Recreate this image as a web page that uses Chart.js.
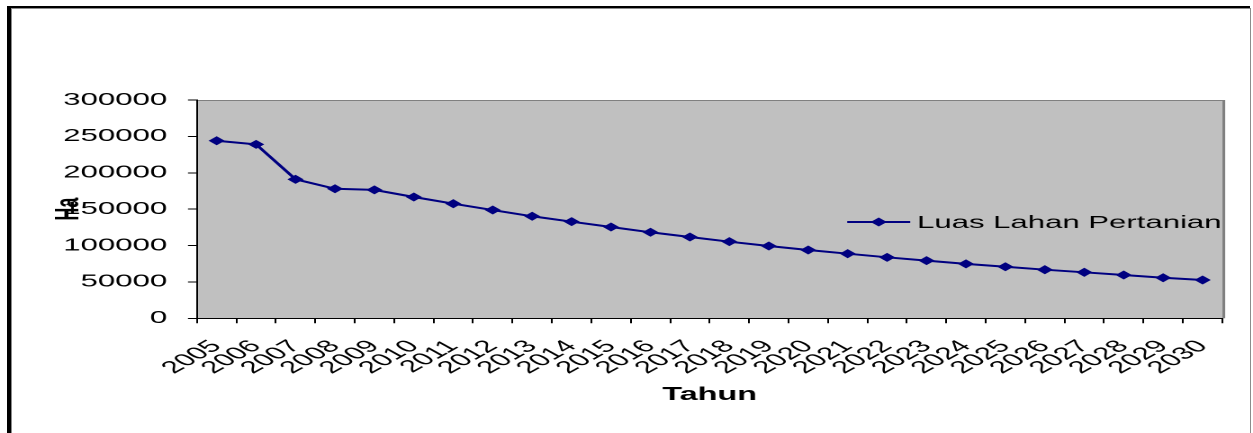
<!DOCTYPE html>
<html>
<head>
<meta charset="utf-8">
<title>Luas Lahan Pertanian</title>
<script src="https://cdn.jsdelivr.net/npm/chart.js@4.4.1/dist/chart.umd.min.js"></script>
<style>
  html, body { margin: 0; padding: 0; background: #ffffff; }
  body { width: 1253px; height: 433px; position: relative; overflow: hidden; }
  /* chart is laid out narrow, then stretched horizontally to the page width */
  #wrap {
    position: absolute; left: 0; top: 0;
    width: 696px; height: 433px;
    transform: scaleX(1.80029); transform-origin: 0 0;
  }
  .frame { position: absolute; pointer-events: none; }
</style>
</head>
<body>
<div id="wrap"><canvas id="chart"></canvas></div>
<!-- outer border of the chart object -->
<div class="frame" style="left:7px; top:6px; width:1243px; height:2px; background:#000;"></div>
<div class="frame" style="left:11px; top:8px; width:1239px; height:1px; background:#8c8c8c;"></div>
<div class="frame" style="left:7px; top:6px; width:4px; height:427px; background:#000;"></div>
<div class="frame" style="left:11px; top:8px; width:1px; height:425px; background:#8c8c8c;"></div>
<div class="frame" style="left:1250px; top:8px; width:1px; height:425px; background:#8c8c8c;"></div>

<script>
// Tahun (year) categories
const years = ['2005', '2006', '2007', '2008', '2009', '2010', '2011', '2012', '2013',
  '2014', '2015', '2016', '2017', '2018', '2019', '2020', '2021', '2022', '2023',
  '2024', '2025', '2026', '2027', '2028', '2029', '2030'];

// Luas lahan pertanian (ha) per year
const luasLahan = [244000, 239000, 191000, 178000, 176500, 166700, 157500, 148800,
  140200, 132800, 125500, 118200, 111700, 105300, 99400, 93900, 88800, 83800,
  79200, 74800, 70900, 66800, 63200, 59500, 55800, 52600];

const seriesName = 'Luas Lahan Pertanian';
const yTicks = [0, 50000, 100000, 150000, 200000, 250000, 300000];

const FONT = "'Liberation Sans', Arial, sans-serif";
const NAVY = '#000080';

// gray plot area with darker edge lines
const plotArea = {
  id: 'plotArea',
  beforeDraw(chart) {
    const {ctx, chartArea: a} = chart;
    ctx.save();
    ctx.fillStyle = '#c0c0c0';
    ctx.fillRect(a.left, a.top, a.right - a.left, a.bottom - a.top);
    ctx.strokeStyle = '#808080';
    ctx.lineWidth = 1;
    ctx.beginPath();
    ctx.moveTo(a.left, a.top + 0.5);
    ctx.lineTo(a.right, a.top + 0.5);
    ctx.stroke();
    ctx.lineWidth = 1.6;
    ctx.beginPath();
    ctx.moveTo(a.right + 0.8, a.top);
    ctx.lineTo(a.right + 0.8, a.bottom);
    ctx.stroke();
    ctx.restore();
  }
};

// series key drawn inside the plot, to the right
const seriesKey = {
  id: 'seriesKey',
  afterDatasetsDraw(chart) {
    const {ctx} = chart;
    const ds = chart.data.datasets[0];
    const y = 222, x0 = 470.6, x1 = 505.6;
    ctx.save();
    ctx.strokeStyle = ds.borderColor;
    ctx.lineWidth = ds.borderWidth;
    ctx.beginPath();
    ctx.moveTo(x0, y);
    ctx.lineTo(x1, y);
    ctx.stroke();
    ctx.fillStyle = ds.pointBackgroundColor;
    ctx.strokeStyle = ds.pointBorderColor;
    ctx.lineWidth = ds.pointBorderWidth;
    Chart.helpers.drawPoint(ctx, {
      pointStyle: ds.pointStyle, radius: ds.pointRadius, borderWidth: ds.pointBorderWidth
    }, (x0 + x1) / 2, y);
    ctx.fillStyle = '#000';
    ctx.font = '17.3px ' + FONT;
    ctx.textAlign = 'left';
    ctx.textBaseline = 'middle';
    ctx.fillText(ds.label, x1 + 3.8, y + 1);
    ctx.restore();
  }
};

new Chart(document.getElementById('chart'), {
  type: 'line',
  data: {
    labels: years,
    datasets: [{
      label: seriesName,
      data: luasLahan,
      borderColor: NAVY,
      borderWidth: 2,
      pointStyle: 'rectRot',
      pointRadius: 3.8,
      pointBackgroundColor: NAVY,
      pointBorderColor: NAVY,
      pointBorderWidth: 1,
      tension: 0,
      fill: false
    }]
  },
  options: {
    responsive: true,
    maintainAspectRatio: false,
    animation: false,
    devicePixelRatio: 2,
    layout: { padding: { left: 10, right: 16.7, top: 100, bottom: 0 } },
    plugins: {
      legend: { display: false },
      tooltip: { enabled: false }
    },
    scales: {
      x: {
        type: 'category',
        offset: true,
        afterFit(scale) { scale.height = 114.7; },
        grid: {
          offset: true,
          drawOnChartArea: false,
          drawTicks: true,
          tickLength: 5,
          color: '#000',
          lineWidth: 1
        },
        border: { display: true, color: '#000', width: 1 },
        ticks: {
          autoSkip: false,
          minRotation: 45,
          maxRotation: 45,
          padding: 13,
          color: '#000',
          font: { family: FONT, size: 17.3 }
        },
        title: {
          display: true,
          text: 'Tahun',
          color: '#000',
          font: { family: FONT, size: 18, weight: 'bold' },
          padding: { top: 0, bottom: 27.2 }
        }
      },
      y: {
        min: 0,
        max: 300000,
        afterFit(scale) { scale.width = 99.4; },
        afterBuildTicks(scale) { scale.ticks = yTicks.map(v => ({ value: v })); },
        grid: {
          drawOnChartArea: false,
          drawTicks: true,
          tickLength: 5,
          color: '#000',
          lineWidth: 1
        },
        border: { display: true, color: '#000', width: 1 },
        ticks: {
          padding: 11.6,
          color: '#000',
          font: { family: FONT, size: 17.3 },
          callback: (v) => String(v)
        },
        title: {
          display: true,
          text: 'Ha',
          color: '#000',
          font: { family: FONT, size: 18, weight: 'bold' },
          padding: { top: 17.5, bottom: 0 }
        }
      }
    }
  },
  plugins: [plotArea, seriesKey]
});
</script>
</body>
</html>
